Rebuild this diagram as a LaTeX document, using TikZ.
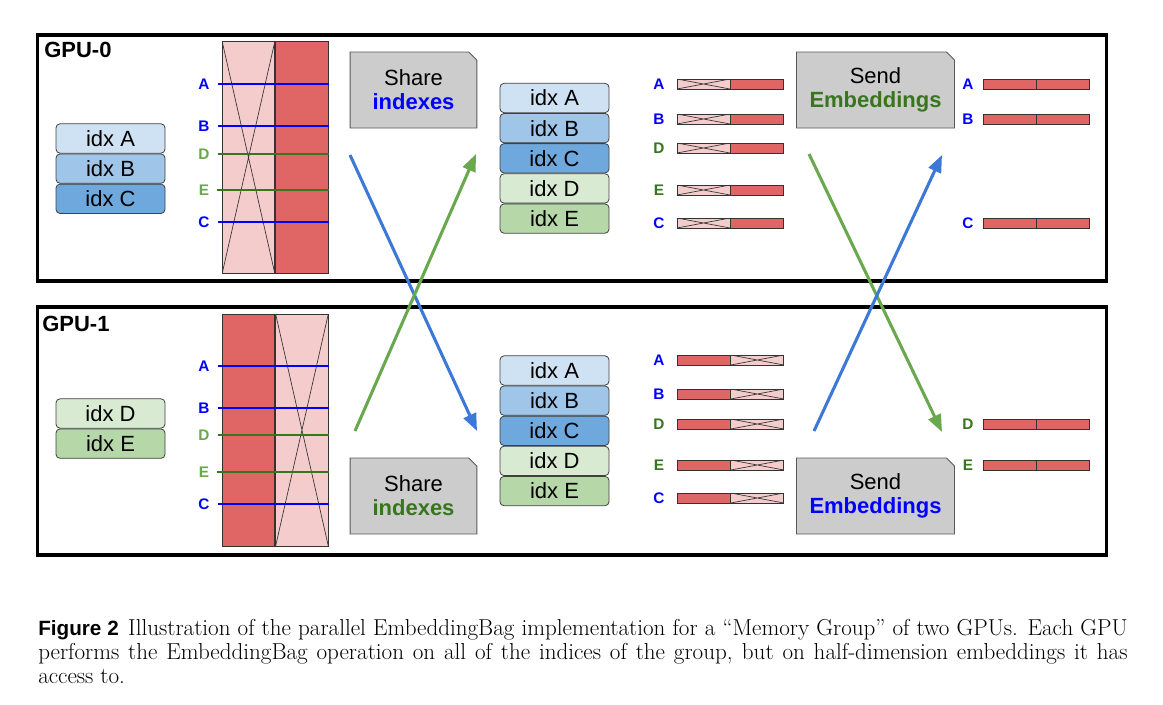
\documentclass[tikz,border=0pt]{standalone}
\usepackage{fontspec}
\newfontfamily\arialfont{Liberation Sans}
\usetikzlibrary{positioning,arrows.meta,shapes.misc}
\definecolor{idxa}{HTML}{CFE2F3}
\definecolor{idxb}{HTML}{9FC5E8}
\definecolor{idxc}{HTML}{6FA8DC}
\definecolor{idxd}{HTML}{D9EAD3}
\definecolor{idxe}{HTML}{B6D7A8}
\definecolor{embpink}{HTML}{F4CCCC}
\definecolor{embred}{HTML}{E06666}
\definecolor{boxgray}{HTML}{CCCCCC}
\definecolor{darkgreen}{HTML}{38761D}
\definecolor{lightgreen}{HTML}{6AA84F}
\definecolor{arrowblue}{HTML}{3C78D8}
\definecolor{pureblue}{HTML}{0000FF}
\tikzset{
  gpuframe/.style={draw, line width=2.6pt, minimum width=802pt, inner sep=0pt},
  gpulabel/.style={font=\arialfont\bfseries\fontsize{16.5}{19}\selectfont, inner sep=0pt},
  idxbox/.style={draw=black!75, line width=0.6pt, rounded corners=3pt, minimum width=81.75pt, minimum height=22pt, inner sep=0pt, font=\arialfont\fontsize{16.5}{19}\selectfont},
  halfcol/.style={draw=black!80, line width=0.6pt, minimum width=39.5pt, minimum height=174pt, inner sep=0pt},
  halfemb/.style={draw=black!80, line width=0.6pt, minimum width=39.75pt, minimum height=7.5pt, inner sep=0pt},
  crossed/.style={fill=embpink, path picture={\draw[line width=0.5pt] (path picture bounding box.north west) -- (path picture bounding box.south east) (path picture bounding box.south west) -- (path picture bounding box.north east);}},
  solid/.style={fill=embred},
  lbl/.style={font=\arialfont\bfseries\fontsize{11.5}{13}\selectfont, inner sep=1pt},
  opbox/.style={chamfered rectangle, chamfered rectangle corners=north east, chamfered rectangle xsep=3pt, chamfered rectangle ysep=3pt, draw=black!65, line width=0.7pt, fill=boxgray, minimum height=57pt, inner sep=0pt, align=center, font=\arialfont\fontsize{16.5}{19}\selectfont},
  bluelook/.style={draw=pureblue, line width=1.5pt},
  greenlook/.style={draw=darkgreen, line width=1.5pt},
  bigarrow/.style={line width=2.3pt, -{Triangle[length=13pt,width=10pt]}},
}
\begin{document}
\begin{tikzpicture}[x=0.75pt,y=0.75pt,yscale=-1]
\useasboundingbox (0,0) rectangle (1163,704);
% GPU frames
\node[gpuframe, minimum height=184.5pt] (gpu0) at (572,158) {};
\node[gpuframe, minimum height=186pt] (gpu1) at (572,431) {};
\node[gpulabel, anchor=west] (gpu0lbl) at (44,50) {GPU-0};
\node[gpulabel, anchor=west] (gpu1lbl) at (42,324) {GPU-1};

% GPU-0 local indexes
\node[idxbox, fill=idxa] (l0a) at (110.5,138.5) {idx A};
\node[idxbox, fill=idxb, below=0pt of l0a] (l0b) {idx B};
\node[idxbox, fill=idxc, below=0pt of l0b] (l0c) {idx C};
% GPU-1 local indexes
\node[idxbox, fill=idxd] (l1d) at (110.5,413.5) {idx D};
\node[idxbox, fill=idxe, below=0pt of l1d] (l1e) {idx E};

% GPU-0 table
\node[halfcol, crossed] (t0a) at (248.5,157.5) {};
\node[halfcol, solid, right=0pt of t0a] (t0b) {};
\node[lbl, text=pureblue] (k0a) at (204,84) {A};
\node[lbl, text=pureblue] (k0b) at (204,126) {B};
\node[lbl, text=lightgreen] (k0d) at (204,154) {D};
\node[lbl, text=lightgreen] (k0e) at (204,190) {E};
\node[lbl, text=pureblue] (k0c) at (204,222) {C};
\draw[bluelook] ([xshift=5pt]k0a.east) -- (k0a -| t0b.east);
\draw[bluelook] ([xshift=5pt]k0b.east) -- (k0b -| t0b.east);
\draw[greenlook] ([xshift=5pt]k0d.east) -- (k0d -| t0b.east);
\draw[greenlook] ([xshift=5pt]k0e.east) -- (k0e -| t0b.east);
\draw[bluelook] ([xshift=5pt]k0c.east) -- (k0c -| t0b.east);

% GPU-1 table
\node[halfcol, solid, minimum height=174pt] (t1a) at (248.5,430) {};
\node[halfcol, crossed, right=0pt of t1a] (t1b) {};
\node[lbl, text=pureblue] (k1a) at (204,366) {A};
\node[lbl, text=pureblue] (k1b) at (204,408) {B};
\node[lbl, text=lightgreen] (k1d) at (204,435) {D};
\node[lbl, text=lightgreen] (k1e) at (204,472) {E};
\node[lbl, text=pureblue] (k1c) at (204,504) {C};
\draw[bluelook] ([xshift=5pt]k1a.east) -- (k1a -| t1b.east);
\draw[bluelook] ([xshift=5pt]k1b.east) -- (k1b -| t1b.east);
\draw[greenlook] ([xshift=5pt]k1d.east) -- (k1d -| t1b.east);
\draw[greenlook] ([xshift=5pt]k1e.east) -- (k1e -| t1b.east);
\draw[bluelook] ([xshift=5pt]k1c.east) -- (k1c -| t1b.east);

% share boxes
\node[opbox, minimum width=95pt] (share0) at (413.5,90) {Share\\[-1pt]\textcolor{pureblue}{\bfseries indexes}};
\node[opbox, minimum width=95pt] (share1) at (413.5,496) {Share\\[-1pt]\textcolor{darkgreen}{\bfseries indexes}};

% gathered indexes
\node[idxbox, fill=idxa] (g0a) at (554.5,98) {idx A};
\node[idxbox, fill=idxb, below=0pt of g0a] (g0b) {idx B};
\node[idxbox, fill=idxc, below=0pt of g0b] (g0c) {idx C};
\node[idxbox, fill=idxd, below=0pt of g0c] (g0d) {idx D};
\node[idxbox, fill=idxe, below=0pt of g0d] (g0e) {idx E};
\node[idxbox, fill=idxa] (g1a) at (554.5,370.5) {idx A};
\node[idxbox, fill=idxb, below=0pt of g1a] (g1b) {idx B};
\node[idxbox, fill=idxc, below=0pt of g1b] (g1c) {idx C};
\node[idxbox, fill=idxd, below=0pt of g1c] (g1d) {idx D};
\node[idxbox, fill=idxe, below=0pt of g1d] (g1e) {idx E};

% index exchange
\coordinate (xb0) at (350,155);
\coordinate (xb1) at (477,431);
\coordinate (xg1) at (355,431);
\coordinate (xg0) at (476,154);
\draw[bigarrow, arrowblue] (xb0) -- (xb1);
\draw[bigarrow, lightgreen] (xg1) -- (xg0);

% GPU-0 half embeddings
\node[lbl, text=pureblue] (h0a) at (659,84) {A};
\node[lbl, text=pureblue] (h0b) at (659,119) {B};
\node[lbl, text=darkgreen] (h0d) at (659,148) {D};
\node[lbl, text=darkgreen] (h0e) at (659,190) {E};
\node[lbl, text=pureblue] (h0c) at (659,223) {C};
\node[halfemb, crossed] (p0a) at (703.5,84) {};
\node[halfemb, solid, right=0pt of p0a] (q0a) {};
\node[halfemb, crossed] (p0b) at (703.5,119) {};
\node[halfemb, solid, right=0pt of p0b] (q0b) {};
\node[halfemb, crossed] (p0d) at (703.5,148) {};
\node[halfemb, solid, right=0pt of p0d] (q0d) {};
\node[halfemb, crossed] (p0e) at (703.5,190) {};
\node[halfemb, solid, right=0pt of p0e] (q0e) {};
\node[halfemb, crossed] (p0c) at (703.5,223) {};
\node[halfemb, solid, right=0pt of p0c] (q0c) {};

% GPU-1 half embeddings
\node[lbl, text=pureblue] (h1a) at (659,360) {A};
\node[lbl, text=pureblue] (h1b) at (659,394) {B};
\node[lbl, text=darkgreen] (h1d) at (659,424) {D};
\node[lbl, text=darkgreen] (h1e) at (659,465) {E};
\node[lbl, text=pureblue] (h1c) at (659,498) {C};
\node[halfemb, solid] (p1a) at (703.5,360) {};
\node[halfemb, crossed, right=0pt of p1a] (q1a) {};
\node[halfemb, solid] (p1b) at (703.5,394) {};
\node[halfemb, crossed, right=0pt of p1b] (q1b) {};
\node[halfemb, solid] (p1d) at (703.5,424) {};
\node[halfemb, crossed, right=0pt of p1d] (q1d) {};
\node[halfemb, solid] (p1e) at (703.5,465) {};
\node[halfemb, crossed, right=0pt of p1e] (q1e) {};
\node[halfemb, solid] (p1c) at (703.5,498) {};
\node[halfemb, crossed, right=0pt of p1c] (q1c) {};

% send boxes
\node[opbox, minimum width=118.5pt] (send0) at (875.5,90) {Send\\[-1pt]\textcolor{darkgreen}{\bfseries Embeddings}};
\node[opbox, minimum width=118.5pt] (send1) at (875.5,496) {Send\\[-1pt]\textcolor{pureblue}{\bfseries Embeddings}};

% embedding exchange
\coordinate (yg0) at (809,154);
\coordinate (yg1) at (942,432);
\coordinate (yb1) at (814,431);
\coordinate (yb0) at (942,155);
\draw[bigarrow, lightgreen] (yg0) -- (yg1);
\draw[bigarrow, arrowblue] (yb1) -- (yb0);

% full embeddings
\node[lbl, text=pureblue] (f0a) at (968,84) {A};
\node[lbl, text=pureblue] (f0b) at (968,119) {B};
\node[lbl, text=pureblue] (f0c) at (968,223) {C};
\node[halfemb, solid] (r0a) at (1009.5,84) {};
\node[halfemb, solid, right=0pt of r0a] (s0a) {};
\node[halfemb, solid] (r0b) at (1009.5,119) {};
\node[halfemb, solid, right=0pt of r0b] (s0b) {};
\node[halfemb, solid] (r0c) at (1009.5,223) {};
\node[halfemb, solid, right=0pt of r0c] (s0c) {};
\node[lbl, text=darkgreen] (f1d) at (968,424) {D};
\node[lbl, text=darkgreen] (f1e) at (968,465) {E};
\node[halfemb, solid] (r1d) at (1009.5,424) {};
\node[halfemb, solid, right=0pt of r1d] (s1d) {};
\node[halfemb, solid] (r1e) at (1009.5,465) {};
\node[halfemb, solid, right=0pt of r1e] (s1e) {};

% caption
\node[anchor=north west, text width=817pt, align=justify, inner sep=0pt, font=\fontsize{17.3}{18}\selectfont] (caption) at (38,619) {{\arialfont\bfseries\fontsize{15.5}{18}\selectfont Figure 2}\hspace{0.1em} Illustration of the parallel EmbeddingBag implementation for a ``Memory Group'' of two GPUs. Each GPU\linebreak performs the EmbeddingBag operation on all of the indices of the group, but on half-dimension embeddings it has\linebreak access to.};
\end{tikzpicture}
\end{document}
